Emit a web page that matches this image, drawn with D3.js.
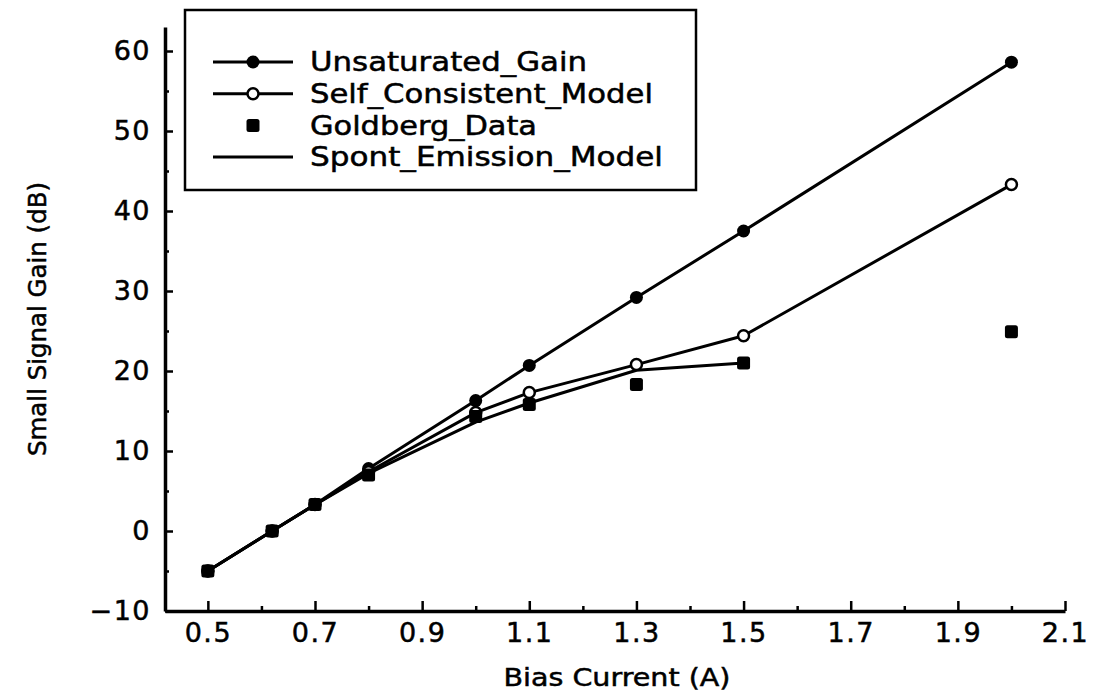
<!DOCTYPE html>
<html>
<head>
<meta charset="utf-8">
<script src="https://cdn.jsdelivr.net/npm/d3@7"></script>
<style>
  html, body { margin: 0; padding: 0; background: #fff; }
  svg { display: block; }
  text { font-family: "DejaVu Sans", sans-serif; fill: #000; stroke: #000; stroke-width: 0.5px; }
</style>
</head>
<body>
<svg id="chart" width="1096" height="700"></svg>
<script>
// Bias current (A) at which the gain was evaluated
const current = [0.5, 0.62, 0.7, 0.8, 1.0, 1.1, 1.3, 1.5, 2.0];
// Small signal gain (dB) for each series
const unsaturatedGain = [-5, 0, 3.3, 7.8, 16.3, 20.7, 29.2, 37.5, 58.6];
const selfConsistentModel = [-5, 0, 3.3, 7.4, 14.8, 17.3, 20.8, 24.4, 43.3];
const goldbergData = [-5, 0, 3.3, 7.0, 14.3, 15.8, 18.3, 21.0, 24.9];
const spontCurrent = [0.5, 0.62, 0.7, 0.8, 1.0, 1.1, 1.3, 1.5];
const spontEmissionModel = [-5, 0, 3.3, 7.2, 13.6, 16.0, 20.1, 21.0];

// Axis ticks
const xMajorTicks = [0.5, 0.7, 0.9, 1.1, 1.3, 1.5, 1.7, 1.9, 2.1];
const xMinorTicks = [0.6, 0.8, 1.0, 1.2, 1.4, 1.6, 1.8, 2.0];
const yMajorTicks = [-10, 0, 10, 20, 30, 40, 50, 60];
const yMinorTicks = [-5, 5, 15, 25, 35, 45, 55];

const legendLabels = ["Unsaturated_Gain", "Self_Consistent_Model", "Goldberg_Data", "Spont_Emission_Model"];

const svg = d3.select("#chart");

const x = d3.scaleLinear().domain([0.42, 2.1]).range([165, 1065]);
const y = d3.scaleLinear().domain([-10, 63]).range([611, 27]);

const zip = (xs, ys) => xs.map((v, i) => [v, ys[i]]);
const line = d3.line().x(d => x(d[0])).y(d => y(d[1]));

// ---- axes ----
svg.append("g")
  .attr("transform", `translate(0,${y(-10)})`)
  .call(d3.axisBottom(x).tickValues(xMajorTicks).tickSize(-10).tickSizeOuter(0)
    .tickPadding(12).tickFormat(d3.format(".1f")));
svg.append("g")
  .attr("transform", `translate(0,${y(-10)})`)
  .call(d3.axisBottom(x).tickValues(xMinorTicks).tickSize(-5).tickSizeOuter(0).tickFormat(""))
  .select(".domain").remove();

svg.append("g")
  .attr("transform", `translate(${x(0.42)},0)`)
  .call(d3.axisLeft(y).tickValues(yMajorTicks).tickSize(-8).tickSizeOuter(0)
    .tickPadding(14).tickFormat(d => d < 0 ? "\u2212" + Math.abs(d) : d));
svg.append("g")
  .attr("transform", `translate(${x(0.42)},0)`)
  .call(d3.axisLeft(y).tickValues(yMinorTicks).tickSize(-4).tickSizeOuter(0).tickFormat(""))
  .select(".domain").remove();

svg.selectAll(".domain").attr("stroke", "#000").attr("stroke-width", 3.5);
svg.selectAll(".tick line").attr("stroke", "#000").attr("stroke-width", 2.5);
svg.selectAll(".tick text").style("font-size", "27px").style("letter-spacing", "1.5px")
  .attr("fill", "#000").style("font-family", "'DejaVu Sans', sans-serif");

// axis titles
svg.append("text")
  .attr("x", 617).attr("y", 686)
  .attr("text-anchor", "middle")
  .attr("textLength", 227).attr("lengthAdjust", "spacingAndGlyphs")
  .style("font-size", "25px")
  .text("Bias Current (A)");

svg.append("text")
  .attr("transform", "translate(46,319) rotate(-90)")
  .attr("text-anchor", "middle")
  .attr("textLength", 274).attr("lengthAdjust", "spacingAndGlyphs")
  .style("font-size", "25px")
  .text("Small Signal Gain (dB)");

// ---- series lines ----
const plot = svg.append("g");
const lineStyle = sel => sel.attr("fill", "none").attr("stroke", "#000")
  .attr("stroke-width", 3).attr("stroke-linejoin", "round");

plot.append("path").datum(zip(spontCurrent, spontEmissionModel)).attr("d", line).call(lineStyle);
plot.append("path").datum(zip(current, selfConsistentModel)).attr("d", line).call(lineStyle);
plot.append("path").datum(zip(current, unsaturatedGain)).attr("d", line).call(lineStyle);

// ---- markers ----
plot.selectAll("circle.unsat").data(zip(current, unsaturatedGain)).join("circle")
  .attr("class", "unsat")
  .attr("cx", d => x(d[0])).attr("cy", d => y(d[1])).attr("r", 6.5)
  .attr("fill", "#000");

plot.selectAll("circle.self").data(zip(current, selfConsistentModel)).join("circle")
  .attr("class", "self")
  .attr("cx", d => x(d[0])).attr("cy", d => y(d[1])).attr("r", 5.5)
  .attr("fill", "#fff").attr("stroke", "#000").attr("stroke-width", 2.5);

const sq = 13;
plot.selectAll("rect.goldberg").data(zip(current, goldbergData)).join("rect")
  .attr("class", "goldberg")
  .attr("x", d => x(d[0]) - sq / 2).attr("y", d => y(d[1]) - sq / 2)
  .attr("width", sq).attr("height", sq).attr("rx", 2.5)
  .attr("fill", "#000");

// ---- legend ----
const legend = svg.append("g");
legend.append("rect")
  .attr("x", 185).attr("y", 10).attr("width", 511).attr("height", 180)
  .attr("fill", "#fff").attr("stroke", "#000").attr("stroke-width", 2.5);

const rowY = i => 62 + i * 31.7;
const textLengths = [277, 343, 227, 353];
legendLabels.forEach((label, i) => {
  const g = legend.append("g");
  if (i !== 2) {
    g.append("line").attr("x1", 213).attr("x2", 293).attr("y1", rowY(i)).attr("y2", rowY(i))
      .attr("stroke", "#000").attr("stroke-width", 3);
  }
  if (i === 0) {
    g.append("circle").attr("cx", 253).attr("cy", rowY(i)).attr("r", 6.5).attr("fill", "#000");
  } else if (i === 1) {
    g.append("circle").attr("cx", 253).attr("cy", rowY(i)).attr("r", 5.5)
      .attr("fill", "#fff").attr("stroke", "#000").attr("stroke-width", 2.5);
  } else if (i === 2) {
    g.append("rect").attr("x", 253 - sq / 2).attr("y", rowY(i) - sq / 2)
      .attr("width", sq).attr("height", sq).attr("rx", 2.5).attr("fill", "#000");
  }
  g.append("text")
    .attr("x", 310).attr("y", rowY(i)).attr("dy", "0.36em")
    .attr("textLength", textLengths[i]).attr("lengthAdjust", "spacingAndGlyphs")
    .style("font-size", "26px")
    .text(label);
});
</script>
</body>
</html>
